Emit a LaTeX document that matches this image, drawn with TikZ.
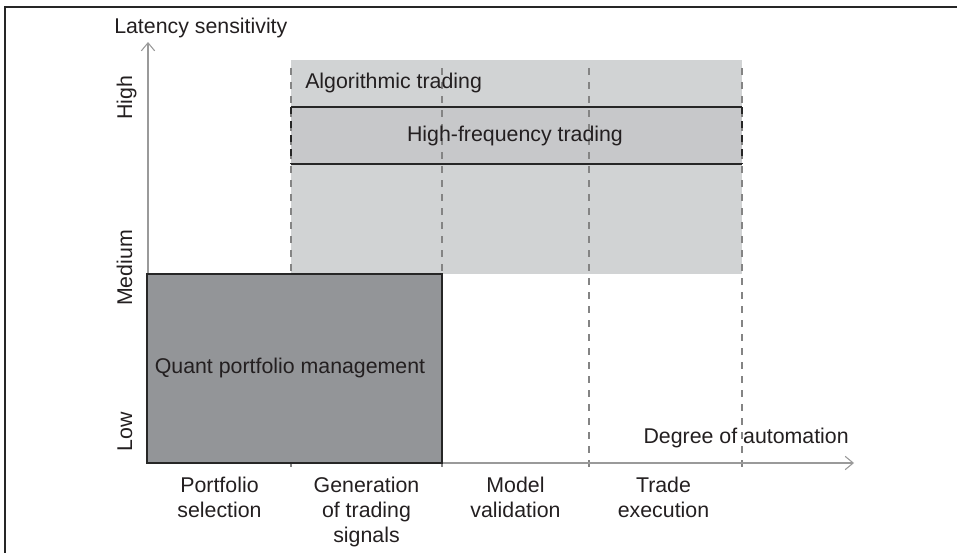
\documentclass[tikz,border=0pt]{standalone}
\usepackage{fontspec}
\setmainfont{Liberation Sans}
\usepackage{tikz}
\usetikzlibrary{arrows,arrows.meta}

\definecolor{txtgray}{HTML}{231F20}
\definecolor{quantgray}{HTML}{939598}
\definecolor{algogray}{HTML}{D1D3D4}
\definecolor{hftgray}{HTML}{C7C8CA}
\definecolor{axisgray}{HTML}{9A9A9A}
\definecolor{dashgray}{HTML}{848484}

\tikzset{
  lbl/.style={inner sep=0.75pt, text=txtgray, font=\fontsize{16}{18.75}\selectfont},
  collbl/.style={lbl, anchor=north, align=center},
  axisline/.style={draw=axisgray, line width=0.8pt, -{Straight Barb[length=6pt,width=10pt]}},
  phase/.style={draw=dashgray, line width=1pt, dash pattern=on 5.5pt off 5pt},
}

\begin{document}
\begin{tikzpicture}[x=0.75pt,y=0.75pt,yscale=-1,xscale=1]
\useasboundingbox (0,0) rectangle (957,553);

%Frame
\draw[line width=1.5pt, draw=black!85] (5,553) -- (5,7) -- (957,7);

%Shape: Rectangle (algorithmic trading area)
\fill[algogray] (291,60) rectangle (742,274);
%Shape: Rectangle (high-frequency trading)
\fill[hftgray] (291,107) rectangle (742,164);
\draw[line width=1.2pt, draw=black!85] (291,107) -- (742,107) (291,164) -- (742,164);

%Dashed phase separators
\foreach \x in {291,442,589,742}
  \draw[phase] (\x,68) -- (\x,472);
\draw[phase, draw=black!85, line width=1.3pt] (291,107) -- (291,164) (742,107) -- (742,164);

%Axes
\coordinate (origin) at (148,463);
\coordinate (ytip) at (148,42);
\coordinate (xtip) at (854,463);
\draw[axisline] (origin) -- (ytip);
\draw[axisline] (origin) -- (xtip);

%Shape: Rectangle (quant portfolio management)
\draw[fill=quantgray, line width=1.5pt, draw=black!85] (147,274) rectangle (442,463);

% Text Node
\node[lbl, anchor=base west] (ylabel) at (113,33) {Latency sensitivity};
% Text Node
\node[lbl, anchor=base, rotate=90] (high) at (132,98) {High};
% Text Node
\node[lbl, anchor=base, rotate=90] (medium) at (132,268) {Medium};
% Text Node
\node[lbl, anchor=base, rotate=90] (low) at (132,432) {Low};
% Text Node
\node[lbl, anchor=base west] (algo) at (304,88) {Algorithmic trading};
% Text Node
\node[lbl] (hft) at (515,135.5) {High-frequency trading};
% Text Node
\node[lbl] (quant) at (290,368) {Quant portfolio management};
% Text Node
\node[lbl, anchor=base east] (xlabel) at (850,443) {Degree of automation};
% Text Node
\node[collbl] (portfolio) at (219.5,476) {Portfolio\\selection};
% Text Node
\node[collbl] (signals) at (366.5,476) {Generation\\of trading\\signals};
% Text Node
\node[collbl] (model) at (515.5,476) {Model\\validation};
% Text Node
\node[collbl] (trade) at (663.5,476) {Trade\\execution};

\end{tikzpicture}
\end{document}
